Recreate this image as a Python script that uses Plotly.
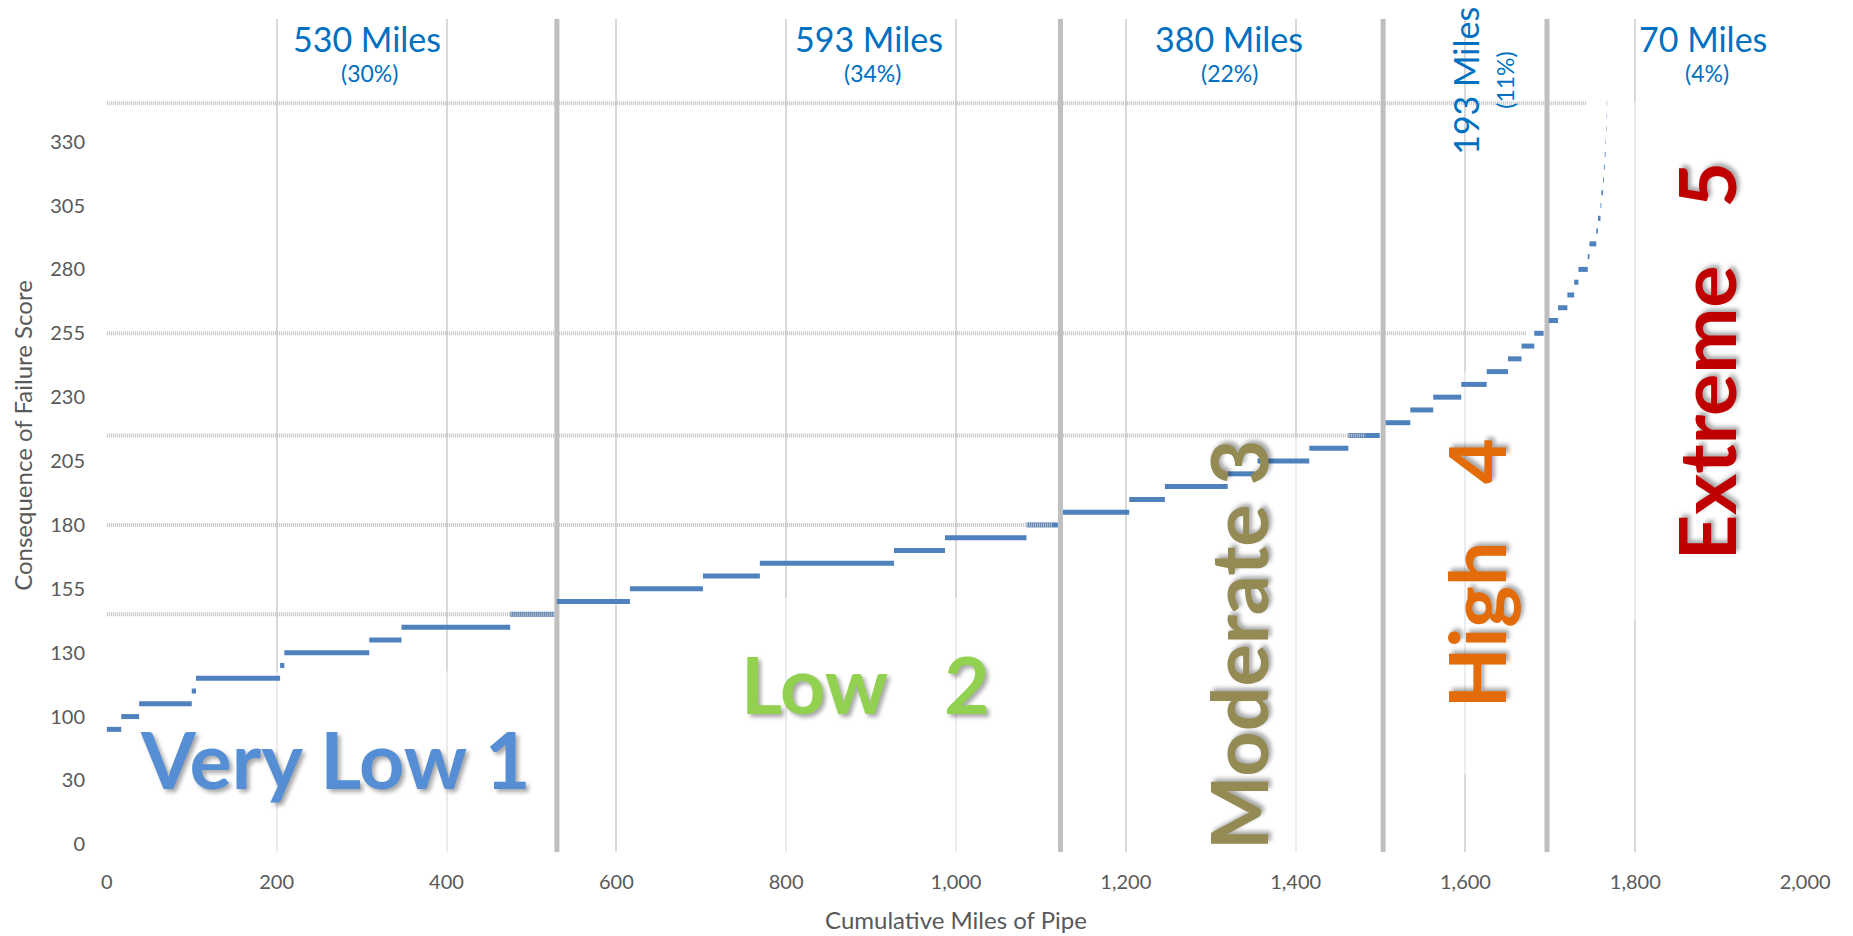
import plotly.graph_objects as go

# Pipe ranked by consequence-of-failure score: each step covers
# step_start..step_end cumulative miles at a constant step_score.
step_score = [100, 105, 110, 115, 120, 125, 130, 135, 140, 145,
              150, 155, 160, 165, 170, 175, 180,
              185, 190, 195, 200, 205, 210, 215,
              220, 225, 230, 235, 240, 245, 250, 255,
              260, 265, 270, 275, 280, 285, 290, 295, 300, 305, 310, 315,
              320, 325, 330, 335, 340, 345]
step_start = [0, 17, 38, 100, 105, 204, 209, 309, 347, 475,
              530, 616, 702, 769, 927, 987, 1083,
              1126, 1204, 1246, 1320, 1355, 1416, 1462,
              1506, 1535, 1562, 1595, 1625, 1650, 1666, 1681,
              1698, 1709, 1720, 1728, 1733, 1744, 1746, 1754, 1756, 1759,
              1760, 1762, 1763, 1764, 1765, 1765.5, 1766, 1766.4]
step_end = [17, 38, 100, 105, 204, 209, 309, 347, 475, 527,
            616, 702, 769, 927, 987, 1083, 1120,
            1204, 1246, 1320, 1352, 1416, 1462, 1499,
            1535, 1562, 1595, 1625, 1650, 1666, 1681, 1692,
            1709, 1720, 1728, 1733, 1744, 1746, 1754, 1756, 1759, 1760,
            1762, 1763, 1764, 1765, 1765.5, 1766, 1766.4, 1766.8]

# Score thresholds between risk classes and how far each guide runs
threshold_score = [145, 180, 215, 255, 345]
threshold_end = [527, 1113, 1482, 1672, 1743]

# Risk classes and the miles of pipe in each
class_names = ["Very Low 1", "Low\u00a0\u00a0\u00a02", "Moderate 3",
               "High\u00a0\u00a0\u00a04", "Extreme\u00a0\u00a0\u00a05"]
class_miles = [530, 593, 380, 193, 70]

# Y axis: tick positions and their printed labels
y_tickvals = [55, 80, 105, 130, 155, 180, 205, 230, 255, 280, 305, 330]
y_ticktext = ["0", "30", "100", "130", "155", "180", "205", "230",
              "255", "280", "305", "330"]

# ---- styling ----
class_colors = ["#558ED5", "#92D050", "#948A54", "#E36C09", "#C00000"]
class_angle = [0, 0, -90, -90, -90]
class_pos = [(269, 88.5), (894, 118), (1331, 133), (1612, 161), (1882, 244)]
miles_pos = [(306, 370.3, 0), (898, 370.3, 0), (1321, 370.3, 0),
             (1600, 354, -90), (1880, 370.3, 0)]
pct_pos = [(309, 357, 0), (902, 357, 0), (1322, 357, 0),
           (1647, 354, -90), (1884, 357, 0)]
label_blue = "#0070C0"
axis_grey = "#595959"
FONT = "Lato"

total_miles = sum(class_miles)
boundaries = []
acc = 0
for m in class_miles[:-1]:
    acc += m
    boundaries.append(acc)

fig = go.Figure()

# Stepped score curve
xs, ys = [], []
for s, e, v in zip(step_start, step_end, step_score):
    xs += [s, e, None]
    ys += [v, v, None]
fig.add_trace(go.Scatter(x=xs, y=ys, mode="lines",
                         line=dict(color="#4F81BD", width=5),
                         hoverinfo="skip", showlegend=False))

# Threshold guides
tx, ty = [], []
for v, e in zip(threshold_score, threshold_end):
    tx += [0, e, None]
    ty += [v, v, None]
fig.add_trace(go.Scatter(x=tx, y=ty, mode="lines",
                         line=dict(color="#c2c2c2", width=4, dash="1px,1px"),
                         hoverinfo="skip", showlegend=False))

shapes = []
# Light text-box panels behind the class names
panel = "rgba(255,255,255,0.5)"
for x0, x1, y0, y1 in [(-4, 524, 52, 122.7), (700, 1090, 52, 151.6),
                       (1300, 1420, 52, 214), (1560, 1680, 82.4, 239.7),
                       (1793, 2010, 142.6, 345.3)]:
    shapes.append(dict(type="rect", xref="x", yref="y", x0=x0, x1=x1,
                       y0=y0, y1=y1, layer="between", fillcolor=panel,
                       line=dict(width=0)))
# Class boundaries
for b in boundaries:
    shapes.append(dict(type="line", xref="x", yref="paper", x0=b, x1=b,
                       y0=0, y1=1, layer="between",
                       line=dict(color="#bfbfbf", width=5)))

annotations = []
shadow = "3px 3px 4px rgba(0,0,0,0.35)"
for name, col, ang, (x, y) in zip(class_names, class_colors, class_angle,
                                  class_pos):
    annotations.append(dict(x=x, y=y, xref="x", yref="y", text=f"<b>{name}</b>",
                            showarrow=False, textangle=ang,
                            xanchor="center", yanchor="middle",
                            font=dict(family=FONT, size=79, color=col,
                                      shadow=shadow)))
for m, (x, y, ang) in zip(class_miles, miles_pos):
    annotations.append(dict(x=x, y=y, xref="x", yref="y", text=f"{m} Miles",
                            showarrow=False, textangle=ang,
                            xanchor="center", yanchor="middle",
                            font=dict(family=FONT, size=34, color=label_blue)))
for m, (x, y, ang) in zip(class_miles, pct_pos):
    pct = round(100 * m / total_miles)
    annotations.append(dict(x=x, y=y, xref="x", yref="y", text=f"({pct}%)",
                            showarrow=False, textangle=ang,
                            xanchor="center", yanchor="middle",
                            font=dict(family=FONT, size=23, color=label_blue)))

fig.update_layout(
    width=1853, height=936,
    margin=dict(l=106, r=47, t=19, b=84),
    paper_bgcolor="white", plot_bgcolor="white",
    font=dict(family=FONT, color=axis_grey),
    shapes=shapes, annotations=annotations,
    xaxis=dict(range=[-1, 2001], tickmode="linear", tick0=0, dtick=200,
               tickformat=",d", showgrid=True, gridcolor="#d9d9d9",
               gridwidth=2, zeroline=False, showline=False, ticks="",
               ticklabelstandoff=16, automargin=False,
               tickfont=dict(family=FONT, size=20, color=axis_grey),
               title=dict(text="Cumulative Miles of Pipe", standoff=20,
                          font=dict(family=FONT, size=24, color=axis_grey))),
    yaxis=dict(range=[52, 378], tickmode="array", tickvals=y_tickvals,
               ticktext=y_ticktext, showgrid=False, zeroline=False,
               showline=False, ticks="", ticklabelstandoff=20,
               automargin=False,
               tickfont=dict(family=FONT, size=20, color=axis_grey),
               title=dict(text="Consequence of Failure Score", standoff=10,
                          font=dict(family=FONT, size=24, color=axis_grey))),
)

fig.write_html("out.html")
